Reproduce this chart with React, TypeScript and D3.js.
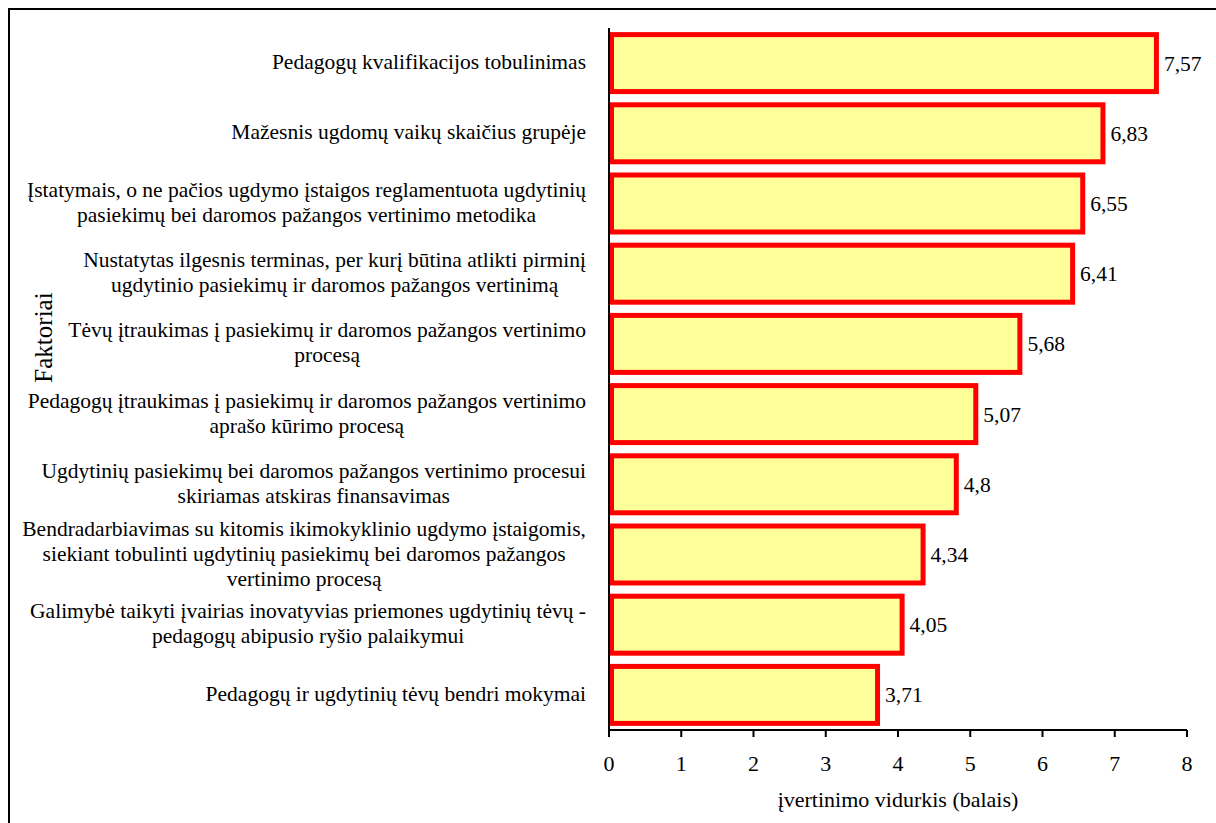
import React, { useEffect } from "react";
import * as d3 from "d3";

const categories: string[][] = [
  ["Pedagogų kvalifikacijos tobulinimas"],
  ["Mažesnis ugdomų vaikų skaičius grupėje"],
  ["Įstatymais, o ne pačios ugdymo įstaigos reglamentuota ugdytinių", "pasiekimų bei daromos pažangos vertinimo metodika"],
  ["Nustatytas ilgesnis terminas, per kurį būtina atlikti pirminį", "ugdytinio pasiekimų ir daromos pažangos vertinimą"],
  ["Tėvų įtraukimas į pasiekimų ir daromos pažangos vertinimo", "procesą"],
  ["Pedagogų įtraukimas į pasiekimų ir daromos pažangos vertinimo", "aprašo kūrimo procesą"],
  ["Ugdytinių pasiekimų bei daromos pažangos vertinimo procesui", "skiriamas atskiras finansavimas"],
  ["Bendradarbiavimas su kitomis ikimokyklinio ugdymo įstaigomis,", "siekiant tobulinti ugdytinių pasiekimų bei daromos pažangos", "vertinimo procesą"],
  ["Galimybė taikyti įvairias inovatyvias priemones ugdytinių tėvų -", "pedagogų abipusio ryšio palaikymui"],
  ["Pedagogų ir ugdytinių tėvų bendri mokymai"],
];
const values: number[] = [7.57, 6.83, 6.55, 6.41, 5.68, 5.07, 4.8, 4.34, 4.05, 3.71];
const valueLabels: string[] = ["7,57", "6,83", "6,55", "6,41", "5,68", "5,07", "4,8", "4,34", "4,05", "3,71"];
const xTicks: number[] = [0, 1, 2, 3, 4, 5, 6, 7, 8];
const xTitle = "įvertinimo vidurkis (balais)";
const yTitle = "Faktoriai";

const W = 1216;
const H = 823;
const FONT = "'Liberation Serif', 'Times New Roman', Times, serif";
const FS = 21.5;
const FS_AX = 22;

let ctx: CanvasRenderingContext2D | null = null;
function measure(s: string): number {
  if (!ctx) {
    const c = document.createElement("canvas");
    ctx = c.getContext("2d");
  }
  if (!ctx) return s.length * FS * 0.45;
  ctx.font = `${FS}px ${FONT}`;
  return ctx.measureText(s).width;
}

export default function App() {
  useEffect(() => {
    document.body.style.margin = "0";
    document.body.style.overflow = "hidden";
  }, []);

  const left = 609;
  const right = 1187;
  const top = 28;
  const bottom = 730;

  const x = d3.scaleLinear().domain([0, 8]).range([left, right]);
  const ids = categories.map((_, i) => String(i));
  const y = d3.scaleBand<string>().domain(ids).range([top, bottom]).paddingInner(0.117).paddingOuter(0.0585);

  const labelRight = 586;
  const lineH = 25;
  const sw = 5;

  return (
    <svg width={W} height={H} style={{ position: "absolute", left: 0, top: 0, background: "#fff", fontFamily: FONT }}>
      <rect x={9} y={9} width={W} height={H} fill="none" stroke="#000" strokeWidth={2} />
      {values.map((v, i) => {
        const yy = y(String(i))!;
        const bw = y.bandwidth();
        return (
          <g key={i}>
            <rect
              x={x(0) + sw / 2}
              y={yy + sw / 2}
              width={x(v) + 0.5 - x(0) - sw / 2}
              height={bw - sw}
              fill="#FFFF99"
              stroke="#FF0000"
              strokeWidth={sw}
            />
            <text x={x(v) + 8} y={yy + bw / 2} dy="0.35em" fontSize={FS} fill="#000">
              {valueLabels[i]}
            </text>
          </g>
        );
      })}
      {categories.map((lines, i) => {
        const cy = y(String(i))! + y.bandwidth() / 2 - 1.5;
        const maxW = Math.max(...lines.map(measure));
        const cx = labelRight - maxW / 2;
        const y0 = cy - ((lines.length - 1) * lineH) / 2;
        return (
          <text key={i} x={cx} textAnchor="middle" fontSize={FS} fill="#000">
            {lines.map((l, j) => (
              <tspan key={j} x={cx} y={y0 + j * lineH} dy="0.35em">
                {l}
              </tspan>
            ))}
          </text>
        );
      })}
      <line x1={left} x2={left} y1={top} y2={bottom + 7} stroke="#000" strokeWidth={2} />
      <line x1={left} x2={right} y1={bottom} y2={bottom} stroke="#000" strokeWidth={2} />
      {xTicks.map((t) => (
        <g key={t}>
          <line x1={x(t)} x2={x(t)} y1={bottom} y2={bottom + 7} stroke="#000" strokeWidth={2} />
          <text x={x(t)} y={763} dy="0.35em" textAnchor="middle" fontSize={FS_AX} fill="#000">
            {t}
          </text>
        </g>
      ))}
      <text x={(left + right) / 2} y={799} dy="0.35em" textAnchor="middle" fontSize={FS_AX} fill="#000">
        {xTitle}
      </text>
      <text transform={`translate(43,337.5) rotate(-90)`} dy="0.35em" textAnchor="middle" fontSize={25} fill="#000">
        {yTitle}
      </text>
    </svg>
  );
}
